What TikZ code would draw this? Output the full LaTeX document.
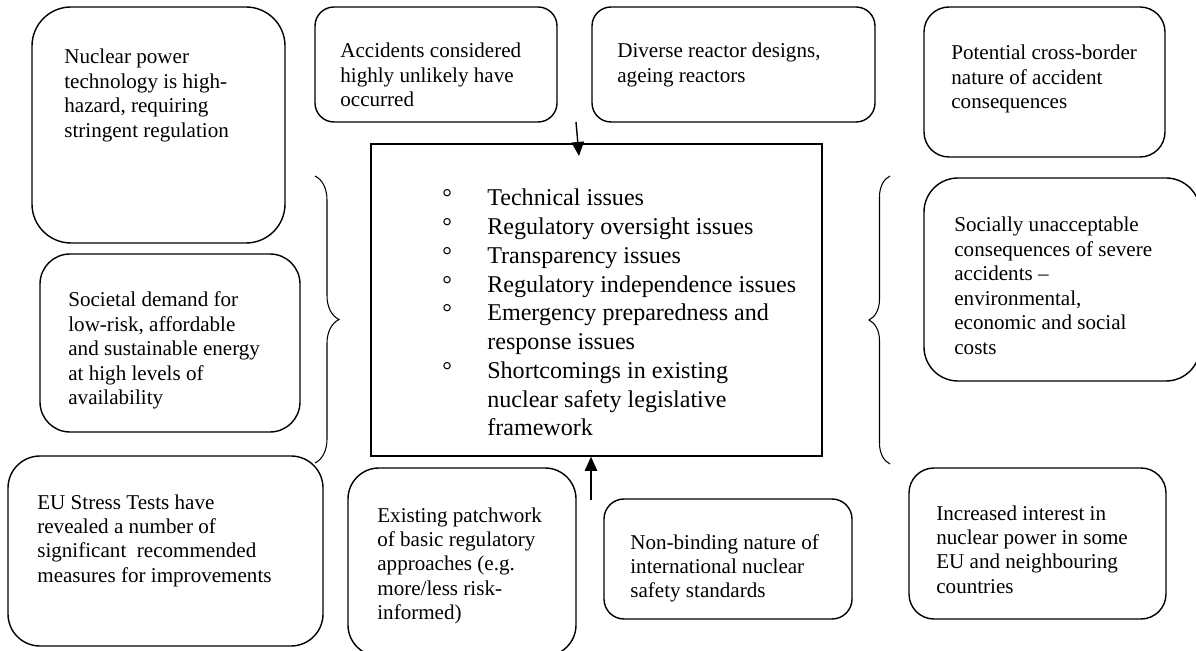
\documentclass[tikz,border=0pt]{standalone}
\usepackage{fontspec}
\setmainfont{Liberation Serif}
\usepackage{tikz}
\usetikzlibrary{arrows.meta,fit,decorations.pathreplacing}

\newcommand{\boxfont}{\fontsize{12}{13.9}\selectfont}
\newcommand{\listfont}{\fontsize{13.7}{16.36}\selectfont}
\newcommand{\boxlines}[1]{\begin{tabular}[t]{@{}l@{}}#1\end{tabular}}

\begin{document}
\begin{tikzpicture}[x=0.02cm, y=-0.02cm,
		card/.style={draw, line width=0.8pt, inner sep=0pt, rounded corners=#1},
		words/.style={anchor=base west, inner sep=0pt, font=\boxfont},
		brace/.style={decorate, decoration={brace, amplitude=#1}, line width=0.6pt},
		arr/.style={-{Triangle[length=8pt, width=7pt]}, line width=0.8pt}]
		\useasboundingbox (0,0) rectangle (1196,651);

		\node[card=0.78cm, fit={(32,7) (285,243)}] (nuclear) {};
		\node[words] (nucleartext) at (64,64) {\boxlines{Nuclear power\\technology is high-\\hazard, requiring\\stringent regulation}};

		\node[card=0.38cm, fit={(315,7) (557,122)}] (accidents) {};
		\node[words] (accidentstext) at (340,58) {\boxlines{Accidents considered\\highly unlikely have\\occurred}};

		\node[card=0.38cm, fit={(592,7) (875,122)}] (designs) {};
		\node[words] (designstext) at (617,58) {\boxlines{Diverse reactor designs,\\ageing reactors}};

		\node[card=0.5cm, fit={(924,7) (1165,157)}] (border) {};
		\node[words] (bordertext) at (951,60) {\boxlines{Potential cross-border\\nature of accident\\consequences}};

		\node[card=0.6cm, fit={(40,254) (300,432)}] (demand) {};
		\node[words] (demandtext) at (68,307) {\boxlines{Societal demand for\\low-risk, affordable\\and sustainable energy\\at high levels of\\availability}};

		\node[card=0.68cm, fit={(924,178) (1200,381)}] (costs) {};
		\node[words] (coststext) at (954,232) {\boxlines{Socially unacceptable\\consequences of severe\\accidents --\\environmental,\\economic and social\\costs}};

		\node[card=0.64cm, fit={(8,456) (323,646)}] (stress) {};
		\node[words] (stresstext) at (37,509) {\boxlines{EU Stress Tests have\\revealed a number of\\significant\ \ recommended\\measures for improvements}};

		\node[card=0.62cm, fit={(348,468) (576,656)}] (patchwork) {};
		\node[words] (patchworktext) at (377,522) {\boxlines{Existing patchwork\\of basic regulatory\\approaches (e.g.\\more/less risk-\\informed)}};

		\node[card=0.4cm, fit={(604,499) (852,619)}] (standards) {};
		\node[words] (standardstext) at (630,549) {\boxlines{Non-binding nature of\\international nuclear\\safety standards}};

		\node[card=0.5cm, fit={(909,468) (1166,619)}] (interest) {};
		\node[words] (interesttext) at (936,520) {\boxlines{Increased interest in\\nuclear power in some\\EU and neighbouring\\countries}};

		\node[draw, line width=0.8pt, inner sep=0pt, fit={(371,144) (822,456)}] (issues) {};
		\node[anchor=base west, inner sep=0pt, font=\listfont] (issuelist) at (442,206) {%
			\begin{tabular}[t]{@{}p{25.6pt}@{}l@{}}
				° & Technical issues\\
				° & Regulatory oversight issues\\
				° & Transparency issues\\
				° & Regulatory independence issues\\
				° & Emergency preparedness and\\
				  & response issues\\
				° & Shortcomings in existing\\
				  & nuclear safety legislative\\
				  & framework
			\end{tabular}};

		\draw[brace=0.48cm] (315,176) -- (315,463);
		\draw[brace=0.42cm] (890,464) -- (890,176);

		\coordinate (topfoot) at (576,122);
		\coordinate (toptip) at (579,156);
		\draw[arr] (topfoot) -- (toptip);

		\coordinate (lowfoot) at (591,500);
		\draw[arr] (lowfoot) -- (lowfoot |- issues.south);

	\end{tikzpicture}
\end{document}
